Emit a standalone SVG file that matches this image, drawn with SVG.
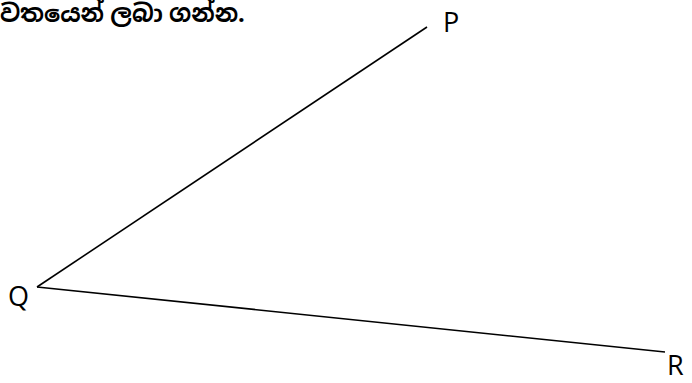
<svg xmlns="http://www.w3.org/2000/svg" width="692" height="383" viewBox="0 0 692 383">
<style>
.lbl{font-family:"Open Sans","Noto Sans","DejaVu Sans",sans-serif;font-size:27px;fill:#000}
.ln{stroke:#000;stroke-width:1.6;fill:none}
.cap{font-family:"Noto Sans","Noto Sans Sinhala","Iskoola Pota",sans-serif;font-size:24px;font-weight:bold;fill:#000}
</style>
<rect width="692" height="383" fill="#fff"/>
<text class="cap" x="0" y="22">වතයෙන් ලබා ගන්න.</text>
<g id="connectors">
<line class="ln" x1="37" y1="287" x2="427" y2="27"/>
<line class="ln" x1="37" y1="287" x2="665" y2="352"/>
</g>
<g id="P"><text class="lbl" x="443" y="32">P</text></g>
<g id="Q"><text class="lbl" x="8" y="306">Q</text></g>
<g id="R"><text class="lbl" x="667" y="375">R</text></g>
</svg>
